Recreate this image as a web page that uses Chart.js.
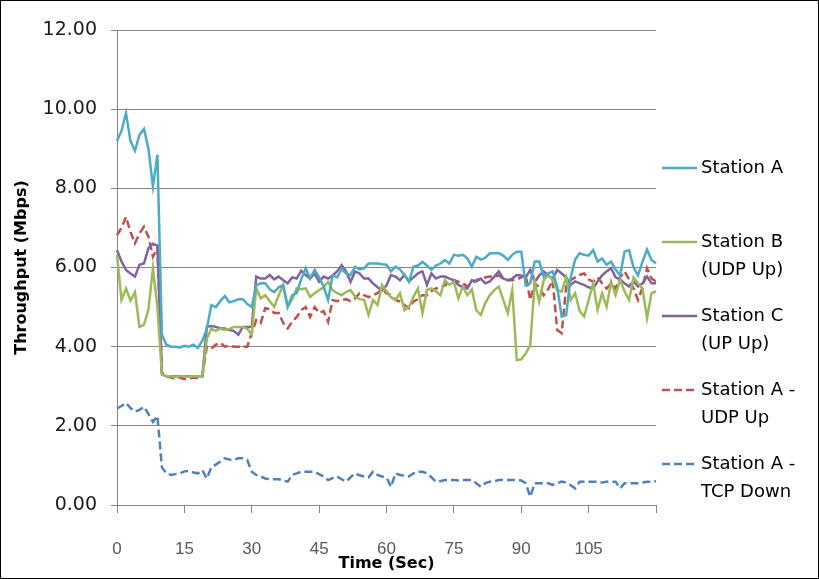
<!DOCTYPE html>
<html>
<head>
<meta charset="utf-8">
<script src="https://cdn.jsdelivr.net/npm/chart.js@4.4.1/dist/chart.umd.min.js"></script>
<style>
  html, body { margin: 0; padding: 0; background: #fff; }
  #wrap { width: 819px; height: 579px; }
</style>
</head>
<body>
<div id="wrap"><canvas id="throughputChart" width="819" height="579"></canvas></div>
<script>
// time axis: one sample per second, 0..120
const times = Array.from({ length: 121 }, (_, i) => i);
const xTickLabels = ['0', '15', '30', '45', '60', '75', '90', '105'];
const yTickValues = [0, 2, 4, 6, 8, 10, 12];

const seriesNames = [
    ['Station A'],
    ['Station B', '(UDP Up)'],
    ['Station C', '(UP Up)'],
    ['Station A -', 'UDP Up'],
    ['Station A -', 'TCP Down']
];

const stationA = [
    9.2, 9.45, 9.9, 9.2, 8.95, 9.35, 9.5, 9.0, 8.05, 8.85,
    4.3, 4.05, 4.0, 4.0, 3.98, 4.02, 4.0, 4.05, 3.97, 4.15,
    4.45, 5.05, 5.0, 5.15, 5.28, 5.12, 5.15, 5.2, 5.2, 5.08,
    5.0, 5.55, 5.6, 5.6, 5.45, 5.38, 5.5, 5.55, 5.0, 5.3,
    5.35, 5.7, 5.98, 5.72, 5.94, 5.75, 5.52, 5.18, 5.8, 5.75,
    5.96, 5.85, 5.81, 6.02, 5.95, 5.98, 6.1, 6.1, 6.1, 6.08,
    6.07, 5.9, 6.02, 5.95, 5.81, 5.64, 6.02, 6.05, 6.14, 6.05,
    5.94, 6.05, 6.1, 6.19, 6.1, 6.32, 6.3, 6.32, 6.23, 6.02,
    6.27, 6.2, 6.25, 6.36, 6.36, 6.36, 6.3, 6.19, 6.32, 6.4,
    6.4, 5.55, 5.6, 6.15, 6.15, 5.77, 5.85, 5.9, 5.52, 4.76,
    4.8, 5.75, 6.2, 6.36, 6.32, 6.3, 6.44, 6.15, 6.23, 6.07,
    6.15, 5.95, 5.8, 6.4, 6.44, 6.0, 5.8, 6.15, 6.45, 6.19,
    6.1
];

const stationB = [
    6.32, 5.18, 5.47, 5.16, 5.38, 4.5, 4.55, 4.93, 5.98, 5.0,
    3.3, 3.25, 3.25, 3.24, 3.25, 3.25, 3.24, 3.25, 3.25, 3.26,
    4.2, 4.45, 4.4, 4.45, 4.42, 4.45, 4.5, 4.5, 4.5, 4.45,
    4.3, 5.47, 5.22, 5.3, 5.15, 5.01, 5.3, 5.55, 5.01, 5.2,
    5.47, 5.45, 5.47, 5.26, 5.35, 5.43, 5.5, 5.64, 5.43, 5.35,
    5.3, 5.38, 5.43, 5.26, 5.2, 5.18, 4.8, 5.18, 5.05, 5.56,
    5.4, 5.25, 5.18, 5.35, 4.92, 5.0, 5.26, 5.47, 4.85, 5.43,
    5.47, 5.4, 5.3, 5.68, 5.56, 5.64, 5.22, 5.52, 5.3, 5.45,
    4.92, 4.8, 5.1, 5.3, 5.43, 5.52, 5.18, 4.85, 5.43, 3.66,
    3.68, 3.83, 4.04, 5.64, 5.14, 5.68, 5.81, 5.68, 5.43, 5.39,
    5.75, 5.18, 5.35, 4.9, 4.76, 5.18, 5.6, 4.93, 5.35, 5.01,
    5.64, 5.3, 5.68, 5.4, 5.18, 5.75, 5.6, 5.47, 4.72, 5.35,
    5.4
];

const stationC = [
    6.44, 6.15, 5.94, 5.85, 5.77, 6.07, 6.1, 6.49, 6.6, 6.55,
    3.3, 3.25, 3.25, 3.25, 3.25, 3.25, 3.25, 3.25, 3.25, 3.25,
    4.5, 4.52, 4.5, 4.46, 4.46, 4.42, 4.4, 4.3, 4.5, 4.5,
    4.5, 5.77, 5.72, 5.72, 5.81, 5.7, 5.77, 5.68, 5.6, 5.75,
    5.72, 5.92, 5.81, 5.72, 5.85, 5.64, 5.77, 5.72, 5.8, 5.9,
    6.06, 5.9, 5.64, 5.9, 5.85, 5.72, 5.72, 5.6, 5.5, 5.43,
    5.55, 5.81, 5.77, 5.68, 5.81, 5.65, 5.75, 5.85, 5.9, 5.56,
    5.85, 5.72, 5.77, 5.77, 5.72, 5.68, 5.56, 5.5, 5.47, 5.68,
    5.65, 5.72, 5.6, 5.65, 5.77, 5.9, 5.72, 5.68, 5.72, 5.81,
    5.8, 5.75, 5.94, 5.64, 5.8, 5.9, 5.8, 5.72, 5.94, 5.85,
    5.75, 5.56, 5.65, 5.6, 5.56, 5.5, 5.47, 5.65, 5.8, 5.9,
    5.98, 5.75, 5.7, 5.6, 5.52, 5.65, 5.52, 5.6, 5.77, 5.6,
    5.6
];

const stationAUdpUp = [
    6.82, 7.0, 7.28, 6.9, 6.61, 6.86, 7.03, 6.78, 6.27, 6.5,
    3.35, 3.25, 3.22, 3.2, 3.22, 3.18, 3.2, 3.22, 3.2, 3.25,
    4.0, 3.95, 4.05, 4.1, 4.0, 4.02, 4.0, 4.0, 4.0, 4.0,
    4.35, 4.67, 4.6, 4.97, 4.95, 4.85, 4.85, 4.6, 4.46, 4.63,
    4.75, 4.92, 5.0, 4.75, 5.0, 4.85, 4.9, 4.63, 5.18, 5.15,
    5.18, 5.2, 5.15, 5.22, 5.35, 5.3, 5.25, 5.3, 5.35, 5.45,
    5.35, 5.3, 5.18, 5.14, 5.05, 4.97, 5.14, 5.2, 5.3, 5.3,
    5.4, 5.47, 5.5, 5.55, 5.64, 5.68, 5.64, 5.6, 5.52, 5.6,
    5.68, 5.72, 5.75, 5.77, 5.77, 5.8, 5.72, 5.68, 5.68, 5.7,
    5.75, 5.81, 5.18, 5.6, 5.5, 5.3, 5.45, 5.68, 4.42, 4.34,
    5.52, 5.68, 5.75, 5.81, 5.85, 5.7, 5.64, 5.75, 5.6, 5.47,
    5.6, 5.47, 5.75, 5.9, 5.7, 5.47, 5.18, 5.5, 5.98, 5.72,
    5.65
];

const stationATcpDown = [
    2.44, 2.5, 2.58, 2.45, 2.36, 2.4, 2.48, 2.3, 2.1, 2.25,
    0.95, 0.8, 0.76, 0.78, 0.8, 0.85, 0.86, 0.82, 0.8, 0.88,
    0.67, 0.95, 1.02, 1.1, 1.18, 1.15, 1.14, 1.18, 1.18, 1.14,
    0.84, 0.76, 0.72, 0.67, 0.65, 0.65, 0.65, 0.62, 0.59, 0.76,
    0.8, 0.84, 0.84, 0.84, 0.84, 0.78, 0.72, 0.63, 0.68, 0.72,
    0.65, 0.59, 0.7, 0.8, 0.75, 0.72, 0.7, 0.84, 0.76, 0.72,
    0.7, 0.46, 0.8, 0.76, 0.74, 0.72, 0.8, 0.84, 0.84, 0.8,
    0.7, 0.59, 0.6, 0.63, 0.63, 0.63, 0.62, 0.63, 0.63, 0.63,
    0.55, 0.46, 0.55, 0.59, 0.6, 0.63, 0.63, 0.63, 0.63, 0.63,
    0.62, 0.55, 0.21, 0.55, 0.55, 0.55, 0.55, 0.51, 0.55, 0.59,
    0.57, 0.5, 0.42, 0.59, 0.59, 0.59, 0.59, 0.59, 0.57, 0.59,
    0.59, 0.59, 0.42, 0.55, 0.55, 0.55, 0.55, 0.57, 0.59, 0.59,
    0.6
];

const gridGray = '#868686';

// white background + black outer frame
const framePlugin = {
    id: 'frame',
    beforeDraw(chart) {
        const ctx = chart.ctx;
        ctx.save();
        ctx.fillStyle = '#fff';
        ctx.fillRect(0, 0, chart.width, chart.height);
        ctx.restore();
    },
    afterDraw(chart) {
        const ctx = chart.ctx;
        ctx.save();
        ctx.strokeStyle = '#000';
        ctx.lineWidth = 1;
        ctx.strokeRect(0.5, 0.5, chart.width - 1, chart.height - 1);
        ctx.restore();
    }
};

// Excel-style legend on the right, labels wrap onto two lines
const sideLegend = {
    id: 'sideLegend',
    afterDraw(chart) {
        const ctx = chart.ctx;
        const x0 = chart.chartArea.right + 6;
        ctx.save();
        ctx.font = '18px "DejaVu Sans"';
        ctx.textBaseline = 'middle';
        ctx.fillStyle = '#000';
        chart.data.datasets.forEach((ds, i) => {
            const y = 168 + i * 74;
            ctx.strokeStyle = ds.borderColor;
            ctx.lineWidth = ds.borderWidth;
            ctx.setLineDash(ds.borderDash || []);
            ctx.beginPath();
            ctx.moveTo(x0, y);
            ctx.lineTo(x0 + 35, y);
            ctx.stroke();
            seriesNames[i].forEach((line, k) => ctx.fillText(line, x0 + 39, y + k * 28));
        });
        ctx.restore();
    }
};

const series = [stationA, stationB, stationC, stationAUdpUp, stationATcpDown];
const colors = ['#4BACC6', '#9BBB59', '#8064A2', '#C0504D', '#4F81BD'];
const dashes = [[], [], [], [8, 4], [8, 4]];

new Chart(document.getElementById('throughputChart'), {
    type: 'line',
    data: {
        labels: times,
        datasets: series.map((data, i) => ({
            label: seriesNames[i].join(' '),
            data: data,
            borderColor: colors[i],
            backgroundColor: colors[i],
            borderWidth: 2.5,
            borderDash: dashes[i],
            pointRadius: 0,
            tension: 0,
            fill: false
        }))
    },
    options: {
        responsive: false,
        animation: false,
        layout: { padding: { top: 30, right: 163, bottom: 0, left: 0 } },
        plugins: {
            legend: { display: false },
            tooltip: { enabled: false }
        },
        scales: {
            x: {
                type: 'category',
                offset: false,
                grid: {
                    drawOnChartArea: false,
                    drawTicks: true,
                    tickLength: 8,
                    tickColor: ctx => (ctx.index % 15 === 0 ? gridGray : 'rgba(0,0,0,0)')
                },
                border: { color: gridGray, width: 1 },
                ticks: {
                    autoSkip: false,
                    maxRotation: 0,
                    minRotation: 0,
                    padding: 26,
                    color: '#595959',
                    font: { family: 'Liberation Sans', size: 17 },
                    callback: (v, i) => (xTickLabels.includes(String(times[i])) ? String(times[i]) : '')
                },
                title: {
                    display: true,
                    text: 'Time (Sec)',
                    color: '#000',
                    font: { family: 'DejaVu Sans', weight: 'bold', size: 16 },
                    padding: { top: 0, bottom: 6 }
                },
                afterFit: s => { s.height = 74; }
            },
            y: {
                min: 0,
                max: 12,
                afterBuildTicks: s => { s.ticks = yTickValues.map(v => ({ value: v })); },
                grid: { color: gridGray, lineWidth: 1, tickLength: 6 },
                border: { color: gridGray, width: 1 },
                ticks: {
                    padding: 14,
                    color: '#1a1a1a',
                    font: { family: 'DejaVu Sans', size: 19 },
                    callback: v => Number(v).toFixed(2)
                },
                title: {
                    display: true,
                    text: 'Throughput (Mbps)',
                    color: '#000',
                    font: { family: 'DejaVu Sans', weight: 'bold', size: 16 },
                    padding: { top: 12, bottom: 0 }
                },
                afterFit: s => { s.width = 117; }
            }
        }
    },
    plugins: [framePlugin, sideLegend]
});
</script>
</body>
</html>
